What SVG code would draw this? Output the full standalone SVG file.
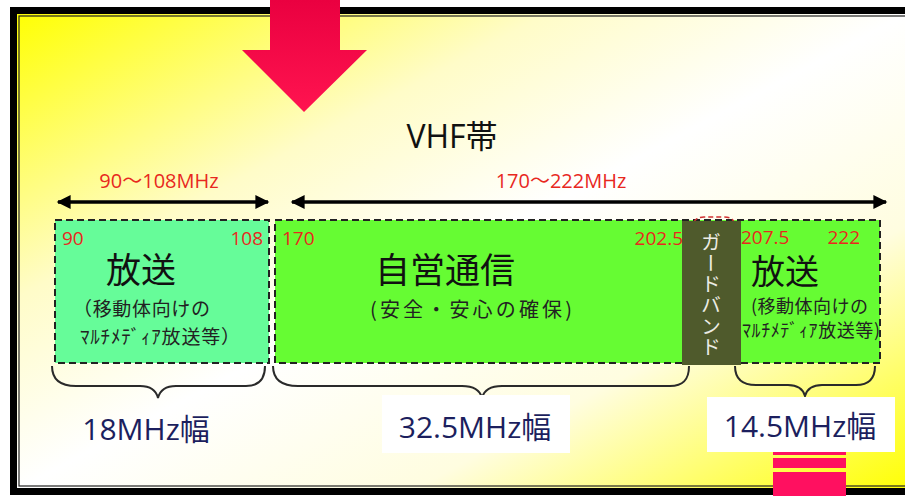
<svg xmlns="http://www.w3.org/2000/svg" width="905" height="496" viewBox="0 0 905 496">
<style>
.jp{font-family:"Noto Sans CJK JP","Noto Sans",sans-serif}
.lat{font-family:"Open Sans","Noto Sans CJK JP",sans-serif}
.red{fill:#e8281e}
.navy{fill:#1c1f5e}
.box{stroke:#222;stroke-width:2;stroke-dasharray:7 4}
.brace{fill:none;stroke:#2a2a2a;stroke-width:2}
.axis{stroke:#000;stroke-width:3.5}
</style>
<defs>
<linearGradient id="bg" x1="0" y1="0" x2="1" y2="1">
<stop offset="0" stop-color="#ffff00"/>
<stop offset="0.3" stop-color="#fffcc8"/>
<stop offset="0.5" stop-color="#ffffff"/>
<stop offset="0.72" stop-color="#fffde0"/>
<stop offset="1" stop-color="#ffff00"/>
</linearGradient>
<linearGradient id="redg" x1="0" y1="0" x2="0" y2="1">
<stop offset="0" stop-color="#ea0040"/>
<stop offset="1" stop-color="#ff1450"/>
</linearGradient>
<marker id="ah" viewBox="0 0 10 10" refX="9" refY="5" markerWidth="4.5" markerHeight="4" orient="auto-start-reverse" markerUnits="strokeWidth">
<path d="M0,0 L10,5 L0,10 Z" fill="#000"/>
</marker>
</defs>
<rect width="905" height="496" fill="#fff"/>
<g id="frame">
<rect x="13.5" y="10.5" width="900" height="481" fill="url(#bg)" stroke="#000" stroke-width="7"/>
<rect x="19" y="16" width="890" height="470" fill="none" stroke="#222" stroke-width="1.2"/>
</g>
<g id="topArrow">
<polygon points="270,0 340,0 340,50 367,50 304,112 242,50 270,50" fill="url(#redg)"/>
</g>
<g id="bottomArrow" fill="#ff1060">
<rect x="773" y="450" width="73" height="5"/>
<rect x="773" y="458" width="73" height="10"/>
<rect x="773" y="472" width="73" height="24"/>
</g>
<g id="title">
<text x="452" y="148" class="lat" font-size="32" text-anchor="middle" fill="#111">VHF帯</text>
</g>
<g id="connectors">
<line class="axis" x1="58" y1="202" x2="268" y2="202" marker-start="url(#ah)" marker-end="url(#ah)"/>
<line class="axis" x1="292" y1="202" x2="886" y2="202" marker-start="url(#ah)" marker-end="url(#ah)"/>
<path class="brace" d="M52,366 C52,380 60,386 76,386 L140,386 C150,386 156,390 158,398 C160,390 166,386 176,386 L246,386 C258,386 265,380 265,366"/>
<path class="brace" d="M273,366 C273,380 282,386 298,386 L462,386 C474,386 480,390 482,398 C484,390 490,386 502,386 L670,386 C683,386 689,380 689,366"/>
<path class="brace" d="M735,366 C735,378 742,385 756,385 L788,385 C798,385 803,389 805,396 C807,389 812,385 822,385 L856,385 C869,385 875,378 875,366"/>
</g>
<g id="rangeLabels" class="lat red" font-size="20" text-anchor="middle">
<text x="159" y="188">90～108MHz</text>
<text x="561" y="188">170～222MHz</text>
</g>
<g id="box1">
<rect class="box" x="55" y="220" width="214" height="143" fill="#66fc99"/>
<text x="62" y="245" class="lat red" font-size="19">90</text>
<text x="263" y="245" class="lat red" font-size="19" text-anchor="end">108</text>
<text x="141" y="283" class="jp" font-size="35" text-anchor="middle" fill="#111">放送</text>
<text x="73" y="316" class="jp" font-size="19" fill="#222" textLength="137" lengthAdjust="spacing">（移動体向けの</text>
<text x="80" y="344" class="jp" font-size="19" fill="#222" textLength="160" lengthAdjust="spacing">ﾏﾙﾁﾒﾃﾞｨｱ放送等）</text>
</g>
<g id="box2">
<rect class="box" x="275" y="220" width="605" height="143" fill="#66fc33"/>
<text x="282" y="245" class="lat red" font-size="19">170</text>
<text x="683" y="245" class="lat red" font-size="19" text-anchor="end">202.5</text>
<text x="445" y="283" class="jp" font-size="35" text-anchor="middle" fill="#111">自営通信</text>
<text x="370" y="317" class="jp" font-size="20" fill="#222" textLength="202" lengthAdjust="spacing">(安全・安心の確保)</text>
</g>
<g id="box3">
<text x="741" y="244" class="lat red" font-size="19">207.5</text>
<text x="860" y="244" class="lat red" font-size="19" text-anchor="end">222</text>
<text x="785" y="284" class="jp" font-size="34" text-anchor="middle" fill="#111">放送</text>
<text x="751" y="313" class="jp" font-size="18" fill="#222" textLength="117" lengthAdjust="spacing">(移動体向けの</text>
<text x="742" y="337" class="jp" font-size="18" fill="#222" textLength="138" lengthAdjust="spacing">ﾏﾙﾁﾒﾃﾞｨｱ放送等)</text>
</g>
<g id="guardBand">
<path d="M694,222 Q696,217 704,217 L724,217 Q732,217 734,222" fill="none" stroke="#d03030" stroke-width="1.5" stroke-dasharray="5 3"/>
<rect x="682" y="221" width="59" height="144" fill="#4f5a2c"/>
<text x="711" y="232" class="jp" font-size="20" fill="#ecece4" writing-mode="tb" letter-spacing="1">ガードバンド</text>
</g>
<g id="widthLabels">
<text x="146" y="440" class="lat navy" font-size="30" text-anchor="middle">18MHz幅</text>
<rect x="382" y="395" width="188" height="58" fill="#fff"/>
<text x="475" y="438" class="lat navy" font-size="30" text-anchor="middle">32.5MHz幅</text>
<rect x="707" y="397" width="188" height="55" fill="#fff"/>
<text x="800" y="437" class="lat navy" font-size="30" text-anchor="middle">14.5MHz幅</text>
</g>
</svg>
